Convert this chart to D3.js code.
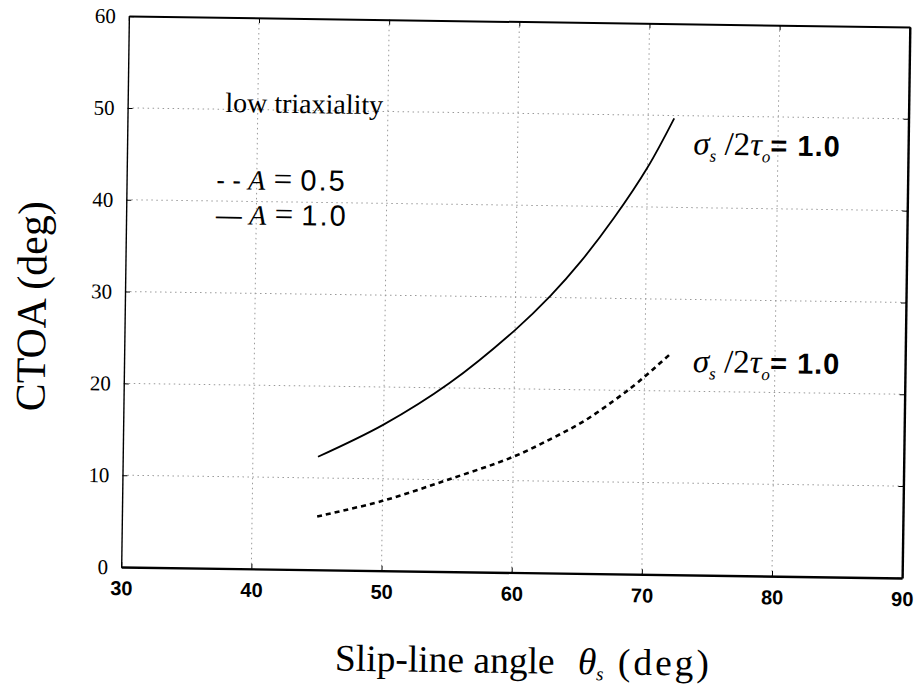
<!DOCTYPE html>
<html>
<head>
<meta charset="utf-8">
<script src="https://cdn.jsdelivr.net/npm/d3@7"></script>
<style>
  body { margin: 0; background: #fff; }
  svg { display: block; }
  text { white-space: pre; }
</style>
</head>
<body>
<svg id="chart"></svg>
<script>
// Set dimensions
const width = 918, height = 698;
const frame = { left: 125, right: 906, top: 21.5, bottom: 572.5 };
const tilt = 0.8; // the scanned figure is slightly rotated

// Tick values
const xTicks = [30, 40, 50, 60, 70, 80, 90];
const yTicks = [0, 10, 20, 30, 40, 50, 60];

// A = 1.0 curve (solid)
const angleA10 = [45, 50, 55, 60, 62.7, 65, 67.5, 70, 72];
const ctoaA10 = [12.3, 15.9, 20.5, 26.4, 30.2, 34.0, 38.8, 44.3, 49.7];

// A = 0.5 curve (dashed)
const angleA05 = [45, 50, 55, 60, 63, 65.4, 67.7, 69.5, 72];
const ctoaA05 = [5.8, 7.6, 10.0, 12.6, 14.7, 16.6, 18.9, 20.9, 24.1];

const svg = d3.select("#chart")
    .attr("width", width)
    .attr("height", height);

const cx = (frame.left + frame.right) / 2, cy = (frame.top + frame.bottom) / 2;
const g = svg.append("g")
    .attr("transform", `rotate(${tilt}, ${cx}, ${cy})`);

// Scales
const x = d3.scaleLinear().domain([30, 90]).range([frame.left, frame.right]);
const y = d3.scaleLinear().domain([0, 60]).range([frame.bottom, frame.top]);

// Dotted grid
g.append("g")
    .selectAll("line")
    .data(xTicks.slice(1, -1))
    .join("line")
    .attr("x1", d => x(d)).attr("x2", d => x(d))
    .attr("y1", frame.top).attr("y2", frame.bottom)
    .attr("stroke", "#999")
    .attr("stroke-width", 1)
    .attr("stroke-dasharray", "1.5 3.5");

g.append("g")
    .selectAll("line")
    .data(yTicks.slice(1, -1))
    .join("line")
    .attr("x1", frame.left).attr("x2", frame.right)
    .attr("y1", d => y(d)).attr("y2", d => y(d))
    .attr("stroke", "#999")
    .attr("stroke-width", 1)
    .attr("stroke-dasharray", "1.5 3.5");

// Axes with inward ticks on all sides
g.append("g")
    .attr("transform", `translate(0, ${frame.bottom})`)
    .call(d3.axisBottom(x).tickValues(xTicks).tickSizeInner(-5).tickSizeOuter(0).tickPadding(14))
    .call(a => a.select(".domain").attr("stroke-width", 2.4))
    .call(a => a.selectAll("text")
        .attr("font-family", "Liberation Sans, sans-serif")
        .attr("font-weight", "bold")
        .attr("font-size", 20)
        .attr("fill", "#000"));

g.append("g")
    .attr("transform", `translate(0, ${frame.top})`)
    .call(d3.axisTop(x).tickValues(xTicks).tickSizeInner(-5).tickSizeOuter(0).tickFormat(""))
    .call(a => a.select(".domain").attr("stroke-width", 2));

g.append("g")
    .attr("transform", `translate(${frame.left}, 0)`)
    .call(d3.axisLeft(y).tickValues(yTicks).tickSizeInner(-5).tickSizeOuter(0).tickPadding(13))
    .call(a => a.select(".domain").attr("stroke-width", 1.4))
    .call(a => a.selectAll("text")
        .attr("font-family", "Liberation Serif, serif")
        .attr("font-size", 21)
        .attr("fill", "#000"));

g.append("g")
    .attr("transform", `translate(${frame.right}, 0)`)
    .call(d3.axisRight(y).tickValues(yTicks).tickSizeInner(-5).tickSizeOuter(0).tickFormat(""))
    .call(a => a.select(".domain").attr("stroke-width", 2.4));

// Curves
const line = d3.line()
    .x(d => x(d[0]))
    .y(d => y(d[1]))
    .curve(d3.curveCatmullRom);

g.append("path")
    .datum(d3.zip(angleA10, ctoaA10))
    .attr("d", line)
    .attr("fill", "none")
    .attr("stroke", "#000")
    .attr("stroke-width", 1.8);

g.append("path")
    .datum(d3.zip(angleA05, ctoaA05))
    .attr("d", line)
    .attr("fill", "none")
    .attr("stroke", "#000")
    .attr("stroke-width", 2.6)
    .attr("stroke-dasharray", "5 4");

// Legend text
g.append("text")
    .attr("x", x(37.5)).attr("y", y(49.7))
    .attr("font-family", "Liberation Serif, serif")
    .attr("font-size", 28)
    .text("low triaxiality");

function legendRow(mark, val, ax, ay) {
    const t = g.append("text")
        .attr("x", x(ax)).attr("y", y(ay))
        .attr("font-size", 28);
    t.append("tspan").attr("font-family", "Liberation Sans, sans-serif").attr("font-size", 26).text(mark + " ");
    t.append("tspan").attr("font-family", "Liberation Serif, serif").attr("font-style", "italic").text("A");
    t.append("tspan").attr("font-family", "Liberation Serif, serif").attr("font-size", 33).text(" = ");
    t.append("tspan").attr("font-family", "Liberation Sans, sans-serif").attr("font-size", 29)
        .attr("letter-spacing", 2).text(val);
}
legendRow("- -", "0.5", 36.9, 41.3);
legendRow("\u2014", "1.0", 36.9, 37.5);

// Curve annotations
function ratioLabel(ax, ay) {
    const t = g.append("text")
        .attr("x", x(ax)).attr("y", y(ay))
        .attr("font-family", "Liberation Serif, serif")
        .attr("font-size", 33);
    t.append("tspan").attr("font-style", "italic").text("\u03c3");
    t.append("tspan").attr("font-style", "italic").attr("font-size", 17).attr("dy", 7).text("s");
    t.append("tspan").attr("dy", -7).text(" /2");
    t.append("tspan").attr("font-style", "italic").text("\u03c4");
    t.append("tspan").attr("font-style", "italic").attr("font-size", 17).attr("dy", 7).text("o");
    t.append("tspan").attr("dy", -7).attr("font-family", "Liberation Sans, sans-serif")
        .attr("font-weight", "bold").attr("font-size", 29).attr("letter-spacing", 1).text("= 1.0");
}
ratioLabel(73.5, 45.8);
ratioLabel(73.7, 22.1);

// Axis titles
const xt = g.append("text")
    .attr("x", 340).attr("y", 673)
    .attr("font-family", "Liberation Serif, serif")
    .attr("font-size", 37.5);
xt.append("tspan").text("Slip-line angle");
xt.append("tspan").attr("x", 583).attr("font-style", "italic").text("\u03b8");
xt.append("tspan").attr("font-style", "italic").attr("font-size", 19).attr("dy", 6).text("s");
xt.append("tspan").attr("x", 623).attr("dy", -6).attr("letter-spacing", 3).text("(deg)");

g.append("text")
    .attr("transform", "translate(46, 313) rotate(-90)")
    .attr("text-anchor", "middle")
    .attr("font-family", "Liberation Serif, serif")
    .attr("font-size", 42)
    .text("CTOA (deg)");
</script>
</body>
</html>
